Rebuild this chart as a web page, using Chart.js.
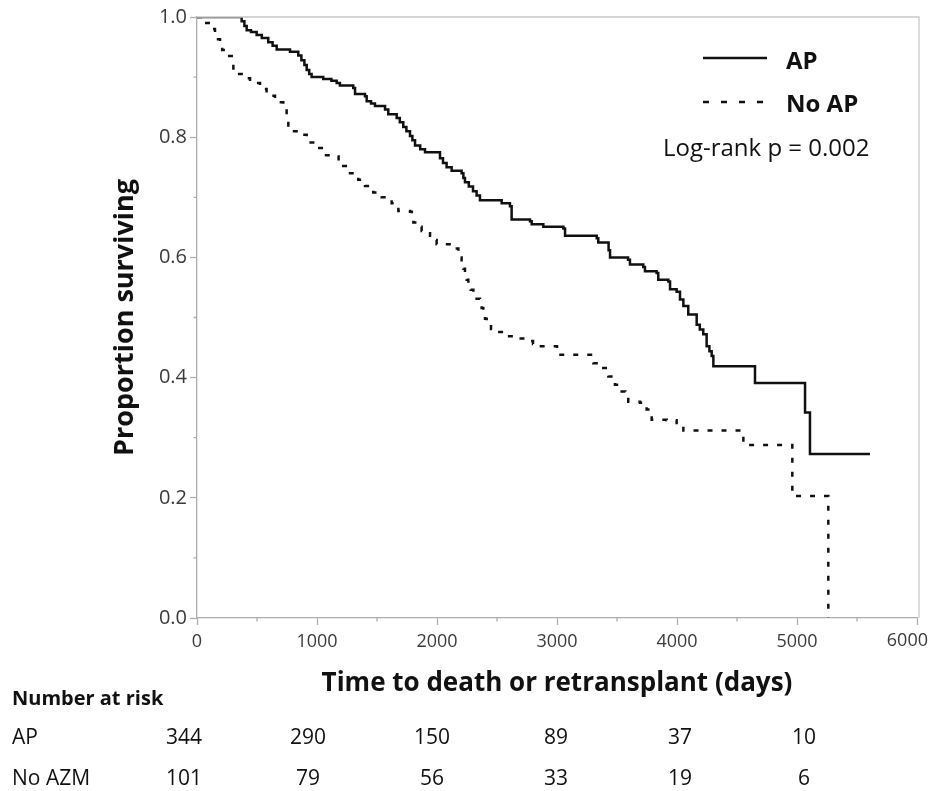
<!DOCTYPE html>
<html>
<head>
<meta charset="utf-8">
<script src="https://cdn.jsdelivr.net/npm/chart.js@4.4.1/dist/chart.umd.min.js"></script>
<style>
  html, body { margin: 0; padding: 0; background: #ffffff; }
  #c { display: block; }
</style>
</head>
<body>
<canvas id="c" width="932" height="791"></canvas>
<script>
// ---------------- DATA ----------------
const seriesNames = ['AP', 'No AP'];

// AP group: event times (days) and survival after each step
const apTimes = [0, 372, 395, 414, 450, 497, 540, 594, 630, 664, 775, 844, 870, 895, 914, 935, 955,
  1052, 1120, 1164, 1191, 1302, 1317, 1400, 1414, 1450, 1483, 1567, 1594, 1664, 1690, 1719, 1745,
  1775, 1795, 1817, 1860, 1900, 2025, 2050, 2080, 2122, 2205, 2220, 2233, 2265, 2300, 2330, 2358,
  2539, 2608, 2622, 2775, 2789, 2886, 3053, 3067, 3331, 3344, 3430, 3442, 3592, 3608, 3719, 3733,
  3830, 3844, 3928, 3942, 3997, 4025, 4053, 4094, 4164, 4190, 4219, 4247, 4270, 4289, 4303, 4650,
  5067, 5108, 5608];
const apSurvival = [1.0, 0.993, 0.985, 0.978, 0.975, 0.970, 0.965, 0.958, 0.952, 0.946, 0.942, 0.936,
  0.928, 0.920, 0.912, 0.905, 0.900, 0.897, 0.894, 0.890, 0.886, 0.882, 0.872, 0.868, 0.860, 0.856,
  0.852, 0.846, 0.838, 0.832, 0.825, 0.817, 0.810, 0.802, 0.795, 0.786, 0.780, 0.775, 0.765, 0.757,
  0.750, 0.744, 0.740, 0.732, 0.725, 0.718, 0.710, 0.703, 0.695, 0.690, 0.685, 0.663, 0.660, 0.655,
  0.651, 0.648, 0.636, 0.632, 0.625, 0.612, 0.600, 0.596, 0.588, 0.584, 0.577, 0.574, 0.563, 0.560,
  0.547, 0.543, 0.530, 0.519, 0.505, 0.488, 0.480, 0.472, 0.452, 0.444, 0.436, 0.419, 0.391, 0.342,
  0.273, 0.273];

// No AP group
const noApTimes = [0, 60, 120, 150, 175, 192, 210, 240, 289, 303, 330, 372, 442, 525, 580, 650, 719,
  747, 761, 858, 914, 997, 1053, 1150, 1180, 1206, 1240, 1275, 1310, 1344, 1370, 1400, 1440, 1469,
  1539, 1622, 1678, 1775, 1790, 1803, 1840, 1872, 1942, 1970, 1997, 2122, 2150, 2178, 2190, 2205,
  2220, 2233, 2247, 2261, 2280, 2303, 2330, 2358, 2372, 2386, 2400, 2414, 2450, 2483, 2567, 2664,
  2761, 2800, 2844, 3000, 3303, 3372, 3428, 3483, 3539, 3570, 3594, 3692, 3747, 3789, 3914, 3997,
  4053, 4553, 4961, 5261];
const noApSurvival = [1.0, 0.990, 0.980, 0.972, 0.963, 0.955, 0.945, 0.935, 0.928, 0.912, 0.905,
  0.898, 0.890, 0.880, 0.869, 0.858, 0.849, 0.830, 0.810, 0.804, 0.791, 0.782, 0.770, 0.768, 0.760,
  0.752, 0.746, 0.740, 0.735, 0.729, 0.724, 0.719, 0.713, 0.708, 0.700, 0.690, 0.677, 0.676, 0.667,
  0.658, 0.651, 0.644, 0.636, 0.629, 0.622, 0.620, 0.615, 0.610, 0.600, 0.591, 0.581, 0.572, 0.563,
  0.555, 0.546, 0.538, 0.531, 0.524, 0.516, 0.508, 0.498, 0.488, 0.481, 0.476, 0.469, 0.465, 0.461,
  0.456, 0.452, 0.438, 0.424, 0.416, 0.402, 0.388, 0.377, 0.368, 0.360, 0.358, 0.347, 0.330, 0.329,
  0.322, 0.312, 0.288, 0.203, 0.0];

// Axis ticks
const xTicks = [0, 1000, 2000, 3000, 4000, 5000, 6000];
const xMinorTicks = [500, 1500, 2500, 3500, 4500, 5500];
const yTicks = [0.0, 0.2, 0.4, 0.6, 0.8, 1.0];
const yMinorTicks = [0.1, 0.3, 0.5, 0.7, 0.9];

// Number at risk table
const riskHeader = 'Number at risk';
const riskRowLabels = ['AP', 'No AZM'];
const apAtRisk = [344, 290, 150, 89, 37, 10];
const noApAtRisk = [101, 79, 56, 33, 19, 6];

// Texts
const xTitle = 'Time to death or retransplant (days)';
const yTitle = 'Proportion surviving';
const pValueText = 'Log-rank p = 0.002';

// ---------------- BUILD ----------------
const FONT = '"Open Sans", "DejaVu Sans", sans-serif';
const INK = '#111111';
const TICKTXT = '#3a3a3a';
const AXIS = '#adadad';
const X_TICK_FONT = 18;

const toPoints = (ts, vs) => ts.map((t, i) => ({ x: t, y: vs[i] }));
const lastX = xTicks[xTicks.length - 1];

const overlay = {
  id: 'kmOverlay',
  afterDraw(chart) {
    const { ctx, chartArea: ca, scales } = chart;
    const xs = scales.x, ys = scales.y;
    ctx.save();
    // frame top + right
    ctx.strokeStyle = '#c9c9c9';
    ctx.lineWidth = 1.3;
    ctx.beginPath();
    ctx.moveTo(ca.left, ca.top);
    ctx.lineTo(ca.right + 2, ca.top);
    ctx.lineTo(ca.right + 2, ca.bottom);
    ctx.stroke();
    // minor ticks
    ctx.strokeStyle = AXIS;
    ctx.beginPath();
    yMinorTicks.forEach(v => {
      const y = ys.getPixelForValue(v);
      ctx.moveTo(ca.left, y); ctx.lineTo(ca.left - 3.5, y);
    });
    xMinorTicks.forEach(v => {
      const x = xs.getPixelForValue(v);
      ctx.moveTo(x, ca.bottom); ctx.lineTo(x, ca.bottom + 3.5);
    });
    ctx.stroke();

    // last x tick label, kept inside the canvas (as in the original figure)
    ctx.fillStyle = TICKTXT;
    ctx.font = X_TICK_FONT + 'px ' + FONT;
    ctx.textAlign = 'right';
    ctx.textBaseline = 'middle';
    ctx.fillText(String(lastX), Math.min(xs.getPixelForValue(lastX) + 20, chart.width - 4), 641);

    // legend
    ctx.strokeStyle = INK;
    ctx.lineWidth = 2.5;
    ctx.setLineDash([]);
    ctx.beginPath();
    ctx.moveTo(703, 58); ctx.lineTo(767, 58);
    ctx.stroke();
    ctx.setLineDash([6, 12]);
    ctx.beginPath();
    ctx.moveTo(703, 102); ctx.lineTo(770, 102);
    ctx.stroke();
    ctx.setLineDash([]);
    ctx.fillStyle = INK;
    ctx.textBaseline = 'alphabetic';
    ctx.textAlign = 'left';
    ctx.font = 'bold 24px ' + FONT;
    ctx.fillText(seriesNames[0], 786, 69);
    ctx.fillText(seriesNames[1], 786, 112);
    ctx.font = '24px ' + FONT;
    ctx.fillText(pValueText, 663, 156);

    // number at risk table
    ctx.fillStyle = INK;
    ctx.font = 'bold 20px ' + FONT;
    ctx.textBaseline = 'middle';
    ctx.fillText(riskHeader, 12, 699);
    ctx.font = '21px ' + FONT;
    const rowY = [738, 779];
    riskRowLabels.forEach((lab, r) => ctx.fillText(lab, 12, rowY[r]));
    ctx.textAlign = 'center';
    const colX0 = ca.left - 13, colStep = 124;
    [apAtRisk, noApAtRisk].forEach((row, r) => {
      row.forEach((n, i) => ctx.fillText(String(n), colX0 + i * colStep, rowY[r]));
    });
    ctx.restore();
  }
};

new Chart(document.getElementById('c'), {
  type: 'line',
  data: {
    datasets: [
      {
        label: seriesNames[0],
        data: toPoints(apTimes, apSurvival),
        stepped: 'before',
        borderColor: INK,
        borderWidth: 2.5,
        pointRadius: 0,
        fill: false,
        borderJoinStyle: 'miter',
        borderCapStyle: 'butt'
      },
      {
        label: seriesNames[1],
        data: toPoints(noApTimes, noApSurvival),
        stepped: 'before',
        borderColor: INK,
        borderWidth: 2.5,
        borderDash: [5, 9],
        pointRadius: 0,
        fill: false,
        borderJoinStyle: 'miter',
        borderCapStyle: 'butt'
      }
    ]
  },
  options: {
    responsive: false,
    animation: false,
    events: [],
    layout: { padding: { top: 17, right: 15, bottom: 91, left: 0 } },
    plugins: { legend: { display: false }, tooltip: { enabled: false } },
    scales: {
      x: {
        type: 'linear',
        min: 0, max: 6000,
        afterBuildTicks(s) { s.ticks = xTicks.map(v => ({ value: v })); },
        ticks: {
          color: TICKTXT, font: { family: FONT, size: X_TICK_FONT }, padding: 6, maxRotation: 0, autoSkip: false,
          callback: v => (v === lastX ? '' : String(v))
        },
        grid: { drawOnChartArea: false, drawTicks: true, tickLength: 7, tickColor: AXIS, tickWidth: 1.3 },
        border: { color: AXIS, width: 1.3 },
        title: { display: true, text: xTitle, color: INK, font: { family: FONT, size: 26, weight: 'bold', lineHeight: 1 }, padding: { top: 0, bottom: 3 } },
        afterFit(s) { s.height = 82; s.paddingLeft = 0; s.paddingRight = 0; }
      },
      y: {
        type: 'linear',
        min: 0, max: 1,
        afterBuildTicks(s) { s.ticks = yTicks.map(v => ({ value: v })); },
        ticks: { color: TICKTXT, font: { family: FONT, size: 20 }, padding: 3, callback: v => Number(v).toFixed(1) },
        grid: { drawOnChartArea: false, drawTicks: true, tickLength: 7, tickColor: AXIS, tickWidth: 1.3 },
        border: { color: AXIS, width: 1.3 },
        title: { display: true, text: yTitle, color: INK, font: { family: FONT, size: 27, weight: 'bold', lineHeight: 1 }, padding: { top: 112, bottom: 0 } },
        afterFit(s) { s.width = 197; s.paddingTop = 0; s.paddingBottom = 0; }
      }
    }
  },
  plugins: [overlay]
});
</script>
</body>
</html>
